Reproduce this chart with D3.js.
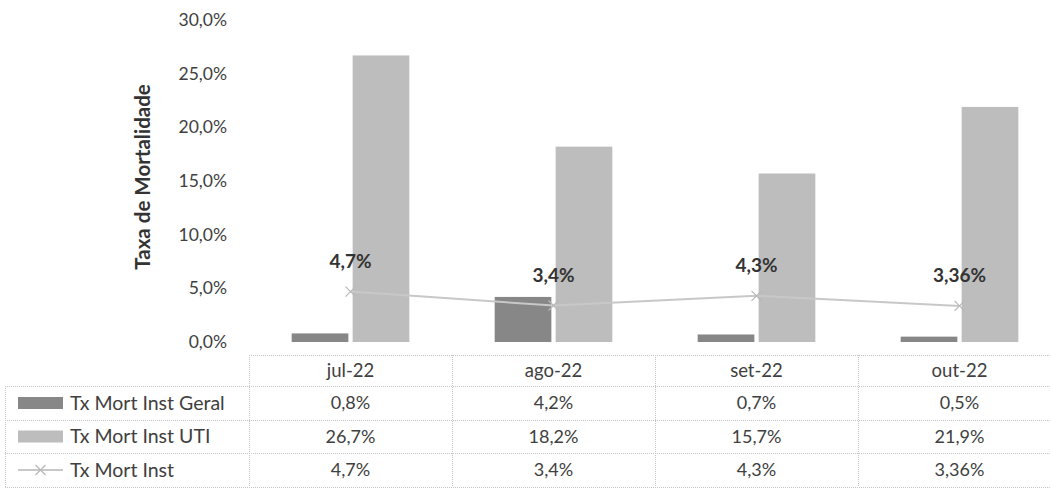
<!DOCTYPE html>
<html>
<head>
<meta charset="utf-8">
<script src="https://cdn.jsdelivr.net/npm/d3@7"></script>
<style>
  html, body { margin: 0; padding: 0; background: #fff; }
  svg { display: block; }
  text { font-family: Lato, "Open Sans", sans-serif; }
</style>
</head>
<body>
<svg id="chart" width="1050" height="492"></svg>
<script>
// ---- data ----
const categories = ["jul-22", "ago-22", "set-22", "out-22"];
const seriesNames = ["Tx Mort Inst Geral", "Tx Mort Inst UTI", "Tx Mort Inst"];
const geral = [0.008, 0.042, 0.007, 0.005];
const uti = [0.267, 0.182, 0.157, 0.219];
const inst = [0.047, 0.034, 0.043, 0.0336];
const geralLabels = ["0,8%", "4,2%", "0,7%", "0,5%"];
const utiLabels = ["26,7%", "18,2%", "15,7%", "21,9%"];
const instLabels = ["4,7%", "3,4%", "4,3%", "3,36%"];
const yTicks = [0, 0.05, 0.10, 0.15, 0.20, 0.25, 0.30];
const yTitle = "Taxa de Mortalidade";

// ---- layout ----
const svg = d3.select("#chart");
const plotTop = 20, plotBottom = 342;
const colLeft = 249, colW = 203;
const textColor = "#404040";
const colGeral = "#878787", colUti = "#bdbdbd", colLine = "#c8c8c8";

const x0 = d3.scaleBand().domain(categories).range([colLeft, colLeft + colW * categories.length]).padding(0);
const barSeries = seriesNames.slice(0, 2);
const x1 = d3.scaleBand().domain(barSeries).range([0, x0.bandwidth()]).paddingInner(0.07).paddingOuter(0.7);
const y = d3.scaleLinear().domain([0, 0.30]).range([plotBottom, plotTop]);

const fmtPct = d => d3.format(".1f")(d * 100).replace(".", ",") + "%";

// y axis (labels only)
const yAxis = d3.axisLeft(y).tickValues(yTicks).tickFormat(fmtPct).tickSize(0).tickPadding(0);
const gy = svg.append("g").attr("transform", "translate(227,0)").call(yAxis);
gy.select(".domain").remove();
gy.selectAll("text").attr("fill", textColor).style("font-size", "17.5px").style("font-family", "Lato, 'Open Sans', sans-serif");

// y title
svg.append("text")
  .attr("transform", `translate(150,177) rotate(-90)`)
  .attr("text-anchor", "middle")
  .attr("fill", "#333")
  .style("font-size", "20.5px").style("font-weight", "bold")
  .text(yTitle);

// bars
const barData = [geral, uti];
const barColors = [colGeral, colUti];
barData.forEach((vals, si) => {
  svg.append("g").selectAll("rect").data(vals).join("rect")
    .attr("x", (d, i) => x0(categories[i]) + x1(barSeries[si]))
    .attr("width", x1.bandwidth())
    .attr("y", d => y(d))
    .attr("height", d => y(0) - y(d))
    .attr("fill", barColors[si]);
});

// line
const cx = i => x0(categories[i]) + x0.bandwidth() / 2;
const line = d3.line().x((d, i) => cx(i)).y(d => y(d));
svg.append("path").datum(inst).attr("d", line)
  .attr("fill", "none").attr("stroke", colLine).attr("stroke-width", 2);
const markerPath = (mx, my, s) => `M${mx - s},${my - s}L${mx + s},${my + s}M${mx - s},${my + s}L${mx + s},${my - s}`;
svg.append("g").selectAll("path").data(inst).join("path")
  .attr("d", (d, i) => markerPath(cx(i), y(d), 5))
  .attr("stroke", "#b8b8b8").attr("stroke-width", 1.2).attr("fill", "none");

// line labels
svg.append("g").selectAll("text").data(inst).join("text")
  .attr("x", (d, i) => cx(i))
  .attr("y", d => y(d) - 24)
  .attr("text-anchor", "middle")
  .attr("fill", "#333")
  .style("font-size", "19px").style("font-weight", "bold")
  .text((d, i) => instLabels[i]);

// ---- data table ----
const rowTops = [355, 386, 420, 453, 487];
const tableRight = colLeft + colW * categories.length;
const gt = svg.append("g").attr("stroke", "#c4c4c4").attr("stroke-dasharray", "1,1").attr("stroke-width", 1);
rowTops.forEach((ty, i) => {
  gt.append("line").attr("x1", i === 0 ? colLeft : 5).attr("x2", tableRight).attr("y1", ty + 0.5).attr("y2", ty + 0.5);
});
categories.forEach((c, i) => {
  gt.append("line").attr("x1", x0(c) + 0.5).attr("x2", x0(c) + 0.5).attr("y1", rowTops[0]).attr("y2", rowTops[4]);
});
gt.append("line").attr("x1", tableRight - 0.5).attr("x2", tableRight - 0.5).attr("y1", rowTops[0]).attr("y2", rowTops[4]);
gt.append("line").attr("x1", 5.5).attr("x2", 5.5).attr("y1", rowTops[1]).attr("y2", rowTops[4]);

const rowMid = i => (rowTops[i] + rowTops[i + 1]) / 2;
// header
svg.append("g").selectAll("text").data(categories).join("text")
  .attr("x", c => x0(c) + x0.bandwidth() / 2)
  .attr("y", rowMid(0)).attr("dy", "0.35em")
  .attr("text-anchor", "middle").attr("fill", textColor)
  .style("font-size", "18.5px").text(c => c);

const rowLabels = [geralLabels, utiLabels, instLabels];
rowLabels.forEach((labels, ri) => {
  svg.append("g").selectAll("text").data(labels).join("text")
    .attr("x", (d, i) => cx(i))
    .attr("y", rowMid(ri + 1)).attr("dy", "0.35em")
    .attr("text-anchor", "middle").attr("fill", textColor)
    .style("font-size", "18px").text(d => d);
  svg.append("text").attr("x", 70).attr("y", rowMid(ri + 1)).attr("dy", "0.35em")
    .attr("fill", textColor).style("font-size", "19.5px").text(seriesNames[ri]);
});
// legend keys
[0, 1].forEach(ri => {
  svg.append("rect").attr("x", 18).attr("y", rowMid(ri + 1) - 6).attr("width", 45).attr("height", 12)
    .attr("fill", barColors[ri]);
});
svg.append("line").attr("x1", 18).attr("x2", 63).attr("y1", rowMid(3)).attr("y2", rowMid(3))
  .attr("stroke", colLine).attr("stroke-width", 2);
svg.append("path").attr("d", markerPath(40.5, rowMid(3), 5))
  .attr("stroke", "#b8b8b8").attr("stroke-width", 1.2).attr("fill", "none");
</script>
</body>
</html>
